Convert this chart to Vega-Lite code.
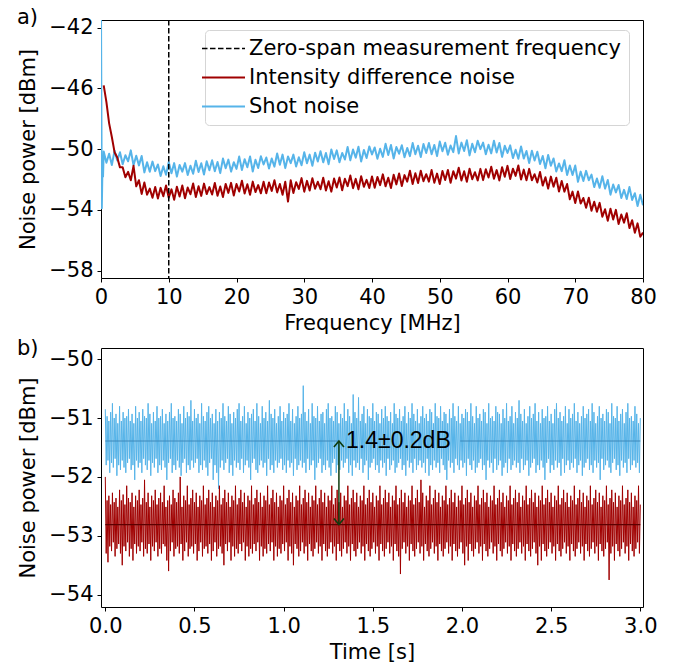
{
"$schema":"https://vega.github.io/schema/vega-lite/v6.json",
"background":"white",
"padding":{"left":16,"top":6,"right":5,"bottom":5},
"spacing":70,
"bounds":"flush",
"resolve":{"scale":{"color":"independent"},"legend":{"color":"independent"}},
"config":{
 "font":"DejaVu Sans",
 "view":{"stroke":"black","strokeWidth":1},
 "axis":{"grid":false,"domain":false,"tickColor":"black","tickSize":4,"labelPadding":4,"labelFontSize":21,"titleFontSize":21,"labelColor":"black","titleColor":"black","titleFontWeight":"normal","labelFont":"DejaVu Sans","titleFont":"DejaVu Sans","labelFlush":false,"labelOverlap":false},
 "axisX":{"titlePadding":5},
 "axisY":{"titlePadding":10},
 "title":{"fontSize":21,"font":"DejaVu Sans","fontWeight":"normal","anchor":"start","frame":"group","dx":-84,"offset":-11,"baseline":"middle","color":"black"}
},
"datasets":{
"spec":[
{"f":0,"b":-41.0},{"f":0.12,"b":-53.9},{"f":0.22,"b":-51.0},{"f":0.3,"b":-51.8},
{"f":0.4,"b":-50.15,"r":-45.8},{"f":0.8,"b":-50.9,"r":-46.9},{"f":1.2,"b":-50.3,"r":-48.3},{"f":1.6,"b":-51.05,"r":-49.2},{"f":2.0,"b":-50.1,"r":-50.2},{"f":2.4,"b":-50.75,"r":-50.55},{"f":2.8,"b":-50.2,"r":-51.2},{"f":3.2,"b":-51.0,"r":-51.2},{"f":3.6,"b":-50.4,"r":-51.85},{"f":4.0,"b":-50.8,"r":-51.5},
{"f":4.4,"b":-50.08,"r":-52.05},{"f":4.8,"b":-51.06,"r":-51.1},{"f":5.2,"b":-50.44,"r":-52.45},{"f":5.6,"b":-51.07,"r":-52.05},{"f":6.0,"b":-50.45,"r":-52.95},{"f":6.4,"b":-51.53,"r":-52.2},{"f":6.8,"b":-50.86,"r":-53.0},{"f":7.2,"b":-51.49,"r":-52.6},{"f":7.6,"b":-50.82,"r":-53.2},{"f":8.0,"b":-51.45,"r":-52.5},
{"f":8.4,"b":-51.01,"r":-53.25},{"f":8.8,"b":-51.77,"r":-52.55},{"f":9.2,"b":-51.13,"r":-53.1},{"f":9.6,"b":-51.69,"r":-52.4},{"f":10.0,"b":-50.85,"r":-53.2},{"f":10.4,"b":-51.59,"r":-52.65},{"f":10.8,"b":-50.92,"r":-53.34},{"f":11.2,"b":-51.81,"r":-52.48},{"f":11.6,"b":-51.04,"r":-53.12},{"f":12.0,"b":-51.48,"r":-52.4},
{"f":12.4,"b":-50.92,"r":-53.24},{"f":12.8,"b":-51.7,"r":-52.53},{"f":13.2,"b":-51.09,"r":-52.97},{"f":13.6,"b":-51.62,"r":-52.26},{"f":14.0,"b":-50.76,"r":-53.15},{"f":14.4,"b":-51.5,"r":-52.44},{"f":14.8,"b":-50.93,"r":-53.08},{"f":15.2,"b":-51.67,"r":-52.27},{"f":15.6,"b":-50.8,"r":-52.96},{"f":16.0,"b":-51.39,"r":-52.5},
{"f":16.4,"b":-50.73,"r":-52.99},{"f":16.8,"b":-51.46,"r":-52.23},{"f":17.2,"b":-50.85,"r":-53.07},{"f":17.6,"b":-51.58,"r":-52.46},{"f":18.0,"b":-50.62,"r":-53.15},{"f":18.4,"b":-51.26,"r":-52.29},{"f":18.8,"b":-50.69,"r":-52.88},{"f":19.2,"b":-51.48,"r":-52.22},{"f":19.6,"b":-50.86,"r":-53.06},{"f":20.0,"b":-51.3,"r":-52.3},
{"f":20.4,"b":-50.49,"r":-52.79},{"f":20.8,"b":-51.37,"r":-52.08},{"f":21.2,"b":-50.66,"r":-52.92},{"f":21.6,"b":-51.19,"r":-52.31},{"f":22.0,"b":-50.48,"r":-53.0},{"f":22.4,"b":-51.47,"r":-52.14},{"f":22.8,"b":-50.7,"r":-52.83},{"f":23.2,"b":-51.24,"r":-52.37},{"f":23.6,"b":-50.47,"r":-52.91},{"f":24.0,"b":-51.01,"r":-52.15},
{"f":24.4,"b":-50.55,"r":-52.9},{"f":24.8,"b":-51.28,"r":-52.2},{"f":25.2,"b":-50.62,"r":-52.75},{"f":25.6,"b":-51.15,"r":-52.05},{"f":26.0,"b":-50.29,"r":-52.85},{"f":26.4,"b":-51.03,"r":-52.3},{"f":26.8,"b":-50.36,"r":-53.0},{"f":27.2,"b":-51.25,"r":-52.15},{"f":27.6,"b":-50.48,"r":-53.45},{"f":28.0,"b":-50.92,"r":-52.05},
{"f":28.4,"b":-50.36,"r":-52.89},{"f":28.8,"b":-51.14,"r":-52.18},{"f":29.2,"b":-50.53,"r":-52.62},{"f":29.6,"b":-51.06,"r":-51.91},{"f":30.0,"b":-50.2,"r":-52.8},{"f":30.4,"b":-50.93,"r":-52.09},{"f":30.8,"b":-50.36,"r":-52.73},{"f":31.2,"b":-51.1,"r":-51.92},{"f":31.6,"b":-50.23,"r":-52.61},{"f":32.0,"b":-50.81,"r":-52.15},
{"f":32.4,"b":-50.14,"r":-52.64},{"f":32.8,"b":-50.87,"r":-51.88},{"f":33.2,"b":-50.25,"r":-52.72},{"f":33.6,"b":-50.99,"r":-52.11},{"f":34.0,"b":-50.02,"r":-52.8},{"f":34.4,"b":-50.65,"r":-51.94},{"f":34.8,"b":-50.08,"r":-52.53},{"f":35.2,"b":-50.86,"r":-51.87},{"f":35.6,"b":-50.25,"r":-52.71},{"f":36.0,"b":-50.68,"r":-51.95},
{"f":36.4,"b":-49.86,"r":-52.44},{"f":36.8,"b":-50.74,"r":-51.73},{"f":37.2,"b":-50.02,"r":-52.57},{"f":37.6,"b":-50.56,"r":-51.96},{"f":38.0,"b":-49.84,"r":-52.65},{"f":38.4,"b":-50.82,"r":-51.79},{"f":38.8,"b":-50.05,"r":-52.48},{"f":39.2,"b":-50.58,"r":-52.02},{"f":39.6,"b":-49.82,"r":-52.56},{"f":40.0,"b":-50.35,"r":-51.8},
{"f":40.4,"b":-49.89,"r":-52.54},{"f":40.8,"b":-50.63,"r":-51.83},{"f":41.2,"b":-49.97,"r":-52.37},{"f":41.6,"b":-50.51,"r":-51.66},{"f":42.0,"b":-49.65,"r":-52.45},{"f":42.4,"b":-50.39,"r":-51.88},{"f":42.8,"b":-49.73,"r":-52.56},{"f":43.2,"b":-50.62,"r":-51.69},{"f":43.6,"b":-49.86,"r":-52.32},{"f":44.0,"b":-50.3,"r":-51.6},
{"f":44.4,"b":-49.74,"r":-52.43},{"f":44.8,"b":-50.53,"r":-51.71},{"f":45.2,"b":-49.92,"r":-52.14},{"f":45.6,"b":-50.46,"r":-51.42},{"f":46.0,"b":-49.6,"r":-52.3},{"f":46.4,"b":-50.34,"r":-51.59},{"f":46.8,"b":-49.78,"r":-52.23},{"f":47.2,"b":-50.52,"r":-51.42},{"f":47.6,"b":-49.66,"r":-52.11},{"f":48.0,"b":-50.25,"r":-51.65},
{"f":48.4,"b":-49.59,"r":-52.14},{"f":48.8,"b":-50.33,"r":-51.38},{"f":49.2,"b":-49.72,"r":-52.22},{"f":49.6,"b":-50.46,"r":-51.61},{"f":50.0,"b":-49.5,"r":-52.3},{"f":50.4,"b":-50.14,"r":-51.44},{"f":50.8,"b":-49.58,"r":-52.03},{"f":51.2,"b":-50.37,"r":-51.37},{"f":51.6,"b":-49.76,"r":-52.21},{"f":52.0,"b":-50.2,"r":-51.45},
{"f":52.4,"b":-49.14,"r":-51.94},{"f":52.8,"b":-50.28,"r":-51.23},{"f":53.2,"b":-49.57,"r":-52.07},{"f":53.6,"b":-50.12,"r":-51.46},{"f":54.0,"b":-49.41,"r":-52.15},{"f":54.4,"b":-50.41,"r":-51.29},{"f":54.8,"b":-49.65,"r":-51.98},{"f":55.2,"b":-50.2,"r":-51.52},{"f":55.6,"b":-49.45,"r":-52.06},{"f":56.0,"b":-50.0,"r":-51.3},
{"f":56.4,"b":-49.57,"r":-52.04},{"f":56.8,"b":-50.34,"r":-51.33},{"f":57.2,"b":-49.71,"r":-51.87},{"f":57.6,"b":-50.28,"r":-51.16},{"f":58.0,"b":-49.45,"r":-51.95},{"f":58.4,"b":-50.22,"r":-51.38},{"f":58.8,"b":-49.59,"r":-52.06},{"f":59.2,"b":-50.51,"r":-51.19},{"f":59.6,"b":-49.78,"r":-51.82},{"f":60.0,"b":-50.25,"r":-51.1},
{"f":60.4,"b":-49.75,"r":-51.97},{"f":60.8,"b":-50.59,"r":-51.29},{"f":61.2,"b":-50.04,"r":-51.76},{"f":61.6,"b":-50.63,"r":-51.08},{"f":62.0,"b":-49.83,"r":-52.0},{"f":62.4,"b":-50.62,"r":-51.35},{"f":62.8,"b":-50.12,"r":-52.05},{"f":63.2,"b":-50.91,"r":-51.3},{"f":63.6,"b":-50.11,"r":-52.05},{"f":64.0,"b":-50.75,"r":-51.65},
{"f":64.4,"b":-50.17,"r":-52.2},{"f":64.8,"b":-50.98,"r":-51.5},{"f":65.2,"b":-50.45,"r":-52.4},{"f":65.6,"b":-51.26,"r":-51.85},{"f":66.0,"b":-50.38,"r":-52.6},{"f":66.4,"b":-51.09,"r":-51.81},{"f":66.8,"b":-50.61,"r":-52.47},{"f":67.2,"b":-51.47,"r":-51.88},{"f":67.6,"b":-50.94,"r":-52.79},{"f":68.0,"b":-51.45,"r":-52.1},
{"f":68.4,"b":-50.73,"r":-52.8},{"f":68.8,"b":-51.7,"r":-52.3},{"f":69.2,"b":-51.08,"r":-53.3},{"f":69.6,"b":-51.7,"r":-52.8},{"f":70.0,"b":-51.08,"r":-53.55},{"f":70.4,"b":-52.15,"r":-52.79},{"f":70.8,"b":-51.48,"r":-53.58},{"f":71.2,"b":-52.1,"r":-53.22},{"f":71.6,"b":-51.43,"r":-53.86},{"f":72.0,"b":-52.05,"r":-53.2},
{"f":72.4,"b":-51.68,"r":-54.06},{"f":72.8,"b":-52.5,"r":-53.47},{"f":73.2,"b":-51.93,"r":-54.13},{"f":73.6,"b":-52.55,"r":-53.54},{"f":74.0,"b":-51.78,"r":-54.45},{"f":74.4,"b":-52.6,"r":-53.96},{"f":74.8,"b":-52.03,"r":-54.72},{"f":75.2,"b":-53.0,"r":-53.93},{"f":75.6,"b":-52.33,"r":-54.64},{"f":76.0,"b":-52.85,"r":-54.0},
{"f":76.4,"b":-52.36,"r":-54.93},{"f":76.8,"b":-53.22,"r":-54.31},{"f":77.2,"b":-52.68,"r":-54.84},{"f":77.6,"b":-53.29,"r":-54.22},{"f":78.0,"b":-52.5,"r":-55.2},{"f":78.4,"b":-53.35,"r":-54.68},{"f":78.8,"b":-52.9,"r":-55.51},{"f":79.2,"b":-53.75,"r":-54.89},{"f":79.6,"b":-53.0,"r":-55.77},{"f":80.0,"b":-53.7,"r":-55.5}
],
"time":[
{"t":0,"b":-50.85,"r":-52.0},{"t":0.005,"b":-51.8,"r":-53.3},{"t":0.01,"b":-50.97,"r":-52.4},{"t":0.015,"b":-51.72,"r":-53.45},{"t":0.02,"b":-51.05,"r":-52.32},{"t":0.025,"b":-51.93,"r":-53.18},{"t":0.03,"b":-50.9,"r":-52.47},{"t":0.035,"b":-51.76,"r":-53.26},{"t":0.04,"b":-50.75,"r":-52.27},{"t":0.045,"b":-51.84,"r":-53.11},
{"t":0.05,"b":-51.0,"r":-52.43},{"t":0.055,"b":-51.69,"r":-53.35},{"t":0.06,"b":-50.93,"r":-52.36},{"t":0.065,"b":-51.98,"r":-53.22},{"t":0.07,"b":-51.09,"r":-52.51},{"t":0.075,"b":-51.8,"r":-53.14},{"t":0.08,"b":-50.8,"r":-52.22},{"t":0.085,"b":-51.88,"r":-53.3},{"t":0.09,"b":-51.05,"r":-52.4},{"t":0.095,"b":-51.72,"r":-53.5},
{"t":0.1,"b":-50.9,"r":-52.3},{"t":0.105,"b":-51.84,"r":-53.18},{"t":0.11,"b":-51.0,"r":-52.47},{"t":0.115,"b":-51.93,"r":-53.26},{"t":0.12,"b":-50.97,"r":-52.15},{"t":0.125,"b":-51.76,"r":-53.11},{"t":0.13,"b":-50.85,"r":-52.36},{"t":0.135,"b":-51.69,"r":-53.35},{"t":0.14,"b":-51.05,"r":-52.43},{"t":0.145,"b":-51.88,"r":-53.22},
{"t":0.15,"b":-50.93,"r":-52.27},{"t":0.155,"b":-51.8,"r":-53.42},{"t":0.16,"b":-51.09,"r":-52.51},{"t":0.165,"b":-52.05,"r":-53.14},{"t":0.17,"b":-50.8,"r":-52.32},{"t":0.175,"b":-51.72,"r":-53.3},{"t":0.18,"b":-51.0,"r":-52.4},{"t":0.185,"b":-51.84,"r":-53.18},{"t":0.19,"b":-50.9,"r":-52.22},{"t":0.195,"b":-51.76,"r":-53.26},
{"t":0.2,"b":-51.05,"r":-52.47},{"t":0.205,"b":-51.93,"r":-53.11},{"t":0.21,"b":-50.85,"r":-52.36},{"t":0.215,"b":-51.69,"r":-53.35},{"t":0.22,"b":-50.97,"r":-52.05},{"t":0.225,"b":-51.8,"r":-53.22},{"t":0.23,"b":-51.0,"r":-52.43},{"t":0.235,"b":-51.88,"r":-53.3},{"t":0.24,"b":-50.75,"r":-52.27},{"t":0.245,"b":-51.72,"r":-53.14},
{"t":0.25,"b":-50.93,"r":-52.51},{"t":0.255,"b":-51.98,"r":-53.42},{"t":0.26,"b":-51.09,"r":-52.32},{"t":0.265,"b":-51.76,"r":-53.18},{"t":0.27,"b":-50.9,"r":-52.4},{"t":0.275,"b":-51.84,"r":-53.26},{"t":0.28,"b":-51.05,"r":-52.22},{"t":0.285,"b":-51.69,"r":-53.11},{"t":0.29,"b":-50.8,"r":-52.47},{"t":0.295,"b":-51.93,"r":-53.35},
{"t":0.3,"b":-51.0,"r":-52.36},{"t":0.305,"b":-51.8,"r":-53.22},{"t":0.31,"b":-50.97,"r":-52.27},{"t":0.315,"b":-51.88,"r":-53.3},{"t":0.32,"b":-50.85,"r":-52.43},{"t":0.325,"b":-51.72,"r":-53.14},{"t":0.33,"b":-51.09,"r":-52.15},{"t":0.335,"b":-51.84,"r":-53.18},{"t":0.34,"b":-50.93,"r":-52.51},{"t":0.345,"b":-52.05,"r":-53.42},
{"t":0.35,"b":-51.05,"r":-52.4},{"t":0.355,"b":-51.76,"r":-53.6},{"t":0.36,"b":-50.9,"r":-52.32},{"t":0.365,"b":-51.69,"r":-53.26},{"t":0.37,"b":-50.75,"r":-52.47},{"t":0.375,"b":-51.93,"r":-53.11},{"t":0.38,"b":-51.0,"r":-52.22},{"t":0.385,"b":-51.8,"r":-53.35},{"t":0.39,"b":-50.97,"r":-52.36},{"t":0.395,"b":-51.88,"r":-53.22},
{"t":0.4,"b":-51.05,"r":-52.43},{"t":0.405,"b":-51.72,"r":-53.18},{"t":0.41,"b":-50.85,"r":-52.27},{"t":0.415,"b":-51.84,"r":-53.3},{"t":0.42,"b":-50.93,"r":-52.0},{"t":0.425,"b":-51.98,"r":-53.14},{"t":0.43,"b":-51.09,"r":-52.51},{"t":0.435,"b":-51.76,"r":-53.42},{"t":0.44,"b":-50.8,"r":-52.32},{"t":0.445,"b":-51.69,"r":-53.26},
{"t":0.45,"b":-51.0,"r":-52.4},{"t":0.455,"b":-51.93,"r":-53.11},{"t":0.46,"b":-50.9,"r":-52.15},{"t":0.465,"b":-51.8,"r":-53.35},{"t":0.47,"b":-50.97,"r":-52.47},{"t":0.475,"b":-51.88,"r":-53.22},{"t":0.48,"b":-50.7,"r":-52.36},{"t":0.485,"b":-51.72,"r":-53.18},{"t":0.49,"b":-51.05,"r":-52.22},{"t":0.495,"b":-51.84,"r":-53.3},
{"t":0.5,"b":-50.85,"r":-52.43},{"t":0.505,"b":-51.76,"r":-53.14},{"t":0.51,"b":-51.0,"r":-52.27},{"t":0.515,"b":-51.69,"r":-53.42},{"t":0.52,"b":-50.93,"r":-52.51},{"t":0.525,"b":-51.93,"r":-53.26},{"t":0.53,"b":-51.09,"r":-52.32},{"t":0.535,"b":-51.8,"r":-53.11},{"t":0.54,"b":-50.75,"r":-52.4},{"t":0.545,"b":-51.88,"r":-53.35},
{"t":0.55,"b":-50.97,"r":-52.15},{"t":0.555,"b":-51.72,"r":-53.22},{"t":0.56,"b":-51.05,"r":-52.47},{"t":0.565,"b":-51.84,"r":-53.18},{"t":0.57,"b":-50.9,"r":-52.36},{"t":0.575,"b":-51.98,"r":-53.3},{"t":0.58,"b":-50.8,"r":-52.22},{"t":0.585,"b":-51.76,"r":-53.14},{"t":0.59,"b":-51.0,"r":-52.43},{"t":0.595,"b":-51.69,"r":-53.42},
{"t":0.6,"b":-50.93,"r":-52.27},{"t":0.605,"b":-52.05,"r":-53.26},{"t":0.61,"b":-51.09,"r":-52.51},{"t":0.615,"b":-51.8,"r":-53.11},{"t":0.62,"b":-50.85,"r":-52.32},{"t":0.625,"b":-51.93,"r":-53.35},{"t":0.63,"b":-51.05,"r":-52.4},{"t":0.635,"b":-52.2,"r":-53.22},{"t":0.64,"b":-50.9,"r":-52.15},{"t":0.645,"b":-51.84,"r":-53.18},
{"t":0.65,"b":-51.0,"r":-52.47},{"t":0.655,"b":-51.72,"r":-53.3},{"t":0.66,"b":-50.75,"r":-52.36},{"t":0.665,"b":-51.88,"r":-53.5},{"t":0.67,"b":-50.97,"r":-52.22},{"t":0.675,"b":-51.76,"r":-53.14},{"t":0.68,"b":-51.05,"r":-52.43},{"t":0.685,"b":-51.69,"r":-53.26},{"t":0.69,"b":-50.8,"r":-52.27},{"t":0.695,"b":-51.93,"r":-53.11},
{"t":0.7,"b":-50.93,"r":-52.51},{"t":0.705,"b":-51.8,"r":-53.42},{"t":0.71,"b":-51.09,"r":-52.32},{"t":0.715,"b":-51.98,"r":-53.18},{"t":0.72,"b":-50.9,"r":-52.4},{"t":0.725,"b":-51.72,"r":-53.35},{"t":0.73,"b":-51.0,"r":-52.15},{"t":0.735,"b":-51.84,"r":-53.22},{"t":0.74,"b":-50.85,"r":-52.47},{"t":0.745,"b":-51.76,"r":-53.3},
{"t":0.75,"b":-50.75,"r":-52.36},{"t":0.755,"b":-51.88,"r":-53.14},{"t":0.76,"b":-51.05,"r":-52.22},{"t":0.765,"b":-51.69,"r":-53.26},{"t":0.77,"b":-50.97,"r":-52.43},{"t":0.775,"b":-51.93,"r":-53.11},{"t":0.78,"b":-50.8,"r":-52.27},{"t":0.785,"b":-51.8,"r":-53.42},{"t":0.79,"b":-51.09,"r":-52.51},{"t":0.795,"b":-51.72,"r":-53.18},
{"t":0.8,"b":-50.9,"r":-52.32},{"t":0.805,"b":-51.84,"r":-53.35},{"t":0.81,"b":-51.0,"r":-52.4},{"t":0.815,"b":-52.05,"r":-53.22},{"t":0.82,"b":-50.93,"r":-52.15},{"t":0.825,"b":-51.76,"r":-53.3},{"t":0.83,"b":-50.85,"r":-52.47},{"t":0.835,"b":-51.69,"r":-53.14},{"t":0.84,"b":-51.05,"r":-52.36},{"t":0.845,"b":-51.88,"r":-53.26},
{"t":0.85,"b":-50.75,"r":-52.22},{"t":0.855,"b":-51.93,"r":-53.11},{"t":0.86,"b":-50.97,"r":-52.43},{"t":0.865,"b":-51.8,"r":-53.42},{"t":0.87,"b":-51.09,"r":-52.27},{"t":0.875,"b":-51.72,"r":-53.18},{"t":0.88,"b":-50.8,"r":-52.51},{"t":0.885,"b":-51.84,"r":-53.35},{"t":0.89,"b":-51.0,"r":-52.32},{"t":0.895,"b":-51.76,"r":-53.22},
{"t":0.9,"b":-50.9,"r":-52.4},{"t":0.905,"b":-51.98,"r":-53.3},{"t":0.91,"b":-51.05,"r":-52.15},{"t":0.915,"b":-51.69,"r":-53.14},{"t":0.92,"b":-50.7,"r":-52.47},{"t":0.925,"b":-51.88,"r":-53.26},{"t":0.93,"b":-50.93,"r":-52.36},{"t":0.935,"b":-51.8,"r":-53.11},{"t":0.94,"b":-51.0,"r":-52.22},{"t":0.945,"b":-51.93,"r":-53.42},
{"t":0.95,"b":-50.85,"r":-52.43},{"t":0.955,"b":-51.72,"r":-53.18},{"t":0.96,"b":-51.09,"r":-52.27},{"t":0.965,"b":-51.84,"r":-53.35},{"t":0.97,"b":-50.97,"r":-52.51},{"t":0.975,"b":-51.76,"r":-53.22},{"t":0.98,"b":-50.8,"r":-52.32},{"t":0.985,"b":-51.69,"r":-53.3},{"t":0.99,"b":-51.05,"r":-52.4},{"t":0.995,"b":-51.88,"r":-53.14},
{"t":1.0,"b":-50.9,"r":-52.15},{"t":1.005,"b":-51.8,"r":-53.26},{"t":1.01,"b":-51.0,"r":-52.47},{"t":1.015,"b":-51.93,"r":-53.11},{"t":1.02,"b":-50.93,"r":-52.36},{"t":1.025,"b":-51.72,"r":-53.42},{"t":1.03,"b":-50.75,"r":-52.22},{"t":1.035,"b":-51.84,"r":-53.18},{"t":1.04,"b":-51.05,"r":-52.43},{"t":1.045,"b":-51.76,"r":-53.3},
{"t":1.05,"b":-50.85,"r":-52.27},{"t":1.055,"b":-51.98,"r":-53.5},{"t":1.06,"b":-51.09,"r":-52.51},{"t":1.065,"b":-51.69,"r":-53.14},{"t":1.07,"b":-50.97,"r":-52.32},{"t":1.075,"b":-51.88,"r":-53.22},{"t":1.08,"b":-50.8,"r":-52.4},{"t":1.085,"b":-51.8,"r":-53.35},{"t":1.09,"b":-51.0,"r":-52.15},{"t":1.095,"b":-51.72,"r":-53.26},
{"t":1.1,"b":-50.93,"r":-52.47},{"t":1.105,"b":-51.84,"r":-53.11},{"t":1.11,"b":-50.45,"r":-52.36},{"t":1.115,"b":-51.76,"r":-53.3},{"t":1.12,"b":-50.9,"r":-52.22},{"t":1.125,"b":-51.93,"r":-53.18},{"t":1.13,"b":-51.05,"r":-52.43},{"t":1.135,"b":-51.69,"r":-53.42},{"t":1.14,"b":-50.85,"r":-52.27},{"t":1.145,"b":-51.88,"r":-53.14},
{"t":1.15,"b":-51.09,"r":-52.51},{"t":1.155,"b":-51.8,"r":-53.26},{"t":1.16,"b":-50.75,"r":-52.32},{"t":1.165,"b":-51.72,"r":-53.35},{"t":1.17,"b":-50.97,"r":-52.4},{"t":1.175,"b":-52.05,"r":-53.22},{"t":1.18,"b":-51.0,"r":-52.15},{"t":1.185,"b":-51.84,"r":-53.11},{"t":1.19,"b":-50.8,"r":-52.47},{"t":1.195,"b":-51.76,"r":-53.3},
{"t":1.2,"b":-51.05,"r":-52.36},{"t":1.205,"b":-51.69,"r":-53.18},{"t":1.21,"b":-50.93,"r":-52.22},{"t":1.215,"b":-51.93,"r":-53.42},{"t":1.22,"b":-50.9,"r":-52.43},{"t":1.225,"b":-51.8,"r":-53.14},{"t":1.23,"b":-51.09,"r":-52.27},{"t":1.235,"b":-51.88,"r":-53.26},{"t":1.24,"b":-50.85,"r":-52.51},{"t":1.245,"b":-51.72,"r":-53.35},
{"t":1.25,"b":-50.75,"r":-52.32},{"t":1.255,"b":-51.84,"r":-53.22},{"t":1.26,"b":-51.0,"r":-52.4},{"t":1.265,"b":-51.98,"r":-53.11},{"t":1.27,"b":-50.97,"r":-52.15},{"t":1.275,"b":-51.76,"r":-53.3},{"t":1.28,"b":-51.05,"r":-52.47},{"t":1.285,"b":-51.69,"r":-53.18},{"t":1.29,"b":-50.8,"r":-52.36},{"t":1.295,"b":-51.93,"r":-53.42},
{"t":1.3,"b":-50.9,"r":-52.22},{"t":1.305,"b":-51.8,"r":-53.14},{"t":1.31,"b":-51.09,"r":-52.43},{"t":1.315,"b":-51.88,"r":-53.26},{"t":1.32,"b":-50.93,"r":-52.27},{"t":1.325,"b":-51.72,"r":-53.35},{"t":1.33,"b":-51.0,"r":-52.51},{"t":1.335,"b":-51.84,"r":-53.22},{"t":1.34,"b":-50.75,"r":-52.32},{"t":1.345,"b":-51.76,"r":-53.11},
{"t":1.35,"b":-51.05,"r":-52.4},{"t":1.355,"b":-51.69,"r":-53.3},{"t":1.36,"b":-50.85,"r":-52.15},{"t":1.365,"b":-51.93,"r":-53.18},{"t":1.37,"b":-50.97,"r":-52.47},{"t":1.375,"b":-51.8,"r":-53.42},{"t":1.38,"b":-51.09,"r":-52.36},{"t":1.385,"b":-51.98,"r":-53.14},{"t":1.39,"b":-50.6,"r":-52.22},{"t":1.395,"b":-51.72,"r":-53.26},
{"t":1.4,"b":-50.9,"r":-52.43},{"t":1.405,"b":-51.84,"r":-53.35},{"t":1.41,"b":-51.0,"r":-52.27},{"t":1.415,"b":-51.76,"r":-53.22},{"t":1.42,"b":-50.65,"r":-52.51},{"t":1.425,"b":-51.88,"r":-53.11},{"t":1.43,"b":-51.05,"r":-52.32},{"t":1.435,"b":-51.69,"r":-53.3},{"t":1.44,"b":-50.93,"r":-52.4},{"t":1.445,"b":-51.93,"r":-53.18},
{"t":1.45,"b":-50.8,"r":-52.15},{"t":1.455,"b":-51.8,"r":-53.42},{"t":1.46,"b":-51.09,"r":-52.47},{"t":1.465,"b":-51.72,"r":-53.14},{"t":1.47,"b":-50.85,"r":-52.36},{"t":1.475,"b":-52.05,"r":-53.26},{"t":1.48,"b":-50.97,"r":-52.22},{"t":1.485,"b":-51.84,"r":-53.35},{"t":1.49,"b":-51.0,"r":-52.43},{"t":1.495,"b":-51.76,"r":-53.22},
{"t":1.5,"b":-50.75,"r":-52.27},{"t":1.505,"b":-51.69,"r":-53.11},{"t":1.51,"b":-51.05,"r":-52.51},{"t":1.515,"b":-51.88,"r":-53.3},{"t":1.52,"b":-50.9,"r":-52.32},{"t":1.525,"b":-51.8,"r":-53.18},{"t":1.53,"b":-50.93,"r":-52.4},{"t":1.535,"b":-51.93,"r":-53.42},{"t":1.54,"b":-51.09,"r":-52.15},{"t":1.545,"b":-51.72,"r":-53.14},
{"t":1.55,"b":-50.85,"r":-52.47},{"t":1.555,"b":-51.84,"r":-53.26},{"t":1.56,"b":-51.0,"r":-52.36},{"t":1.565,"b":-51.76,"r":-53.35},{"t":1.57,"b":-50.8,"r":-52.22},{"t":1.575,"b":-51.98,"r":-53.22},{"t":1.58,"b":-50.97,"r":-52.43},{"t":1.585,"b":-51.69,"r":-53.11},{"t":1.59,"b":-51.05,"r":-52.27},{"t":1.595,"b":-51.88,"r":-53.3},
{"t":1.6,"b":-50.9,"r":-52.51},{"t":1.605,"b":-51.8,"r":-53.18},{"t":1.61,"b":-51.09,"r":-52.32},{"t":1.615,"b":-51.72,"r":-53.42},{"t":1.62,"b":-50.75,"r":-52.4},{"t":1.625,"b":-51.93,"r":-53.14},{"t":1.63,"b":-50.93,"r":-52.15},{"t":1.635,"b":-51.84,"r":-53.26},{"t":1.64,"b":-51.0,"r":-52.47},{"t":1.645,"b":-51.76,"r":-53.35},
{"t":1.65,"b":-50.85,"r":-52.36},{"t":1.655,"b":-51.69,"r":-53.65},{"t":1.66,"b":-51.05,"r":-52.22},{"t":1.665,"b":-51.88,"r":-53.22},{"t":1.67,"b":-50.97,"r":-52.43},{"t":1.675,"b":-51.8,"r":-53.11},{"t":1.68,"b":-50.8,"r":-52.27},{"t":1.685,"b":-51.98,"r":-53.3},{"t":1.69,"b":-51.09,"r":-52.51},{"t":1.695,"b":-51.72,"r":-53.18},
{"t":1.7,"b":-50.9,"r":-52.32},{"t":1.705,"b":-51.84,"r":-53.42},{"t":1.71,"b":-51.0,"r":-52.4},{"t":1.715,"b":-51.76,"r":-53.14},{"t":1.72,"b":-50.75,"r":-52.15},{"t":1.725,"b":-51.93,"r":-53.26},{"t":1.73,"b":-50.93,"r":-52.47},{"t":1.735,"b":-51.69,"r":-53.35},{"t":1.74,"b":-51.05,"r":-52.36},{"t":1.745,"b":-51.88,"r":-53.22},
{"t":1.75,"b":-50.85,"r":-52.22},{"t":1.755,"b":-51.8,"r":-53.11},{"t":1.76,"b":-51.09,"r":-52.43},{"t":1.765,"b":-51.72,"r":-53.3},{"t":1.77,"b":-50.97,"r":-52.05},{"t":1.775,"b":-51.84,"r":-53.18},{"t":1.78,"b":-50.8,"r":-52.27},{"t":1.785,"b":-51.76,"r":-53.42},{"t":1.79,"b":-51.0,"r":-52.51},{"t":1.795,"b":-51.93,"r":-53.14},
{"t":1.8,"b":-50.93,"r":-52.32},{"t":1.805,"b":-51.69,"r":-53.26},{"t":1.81,"b":-51.05,"r":-52.4},{"t":1.815,"b":-51.98,"r":-53.35},{"t":1.82,"b":-50.85,"r":-52.15},{"t":1.825,"b":-51.8,"r":-53.22},{"t":1.83,"b":-50.9,"r":-52.47},{"t":1.835,"b":-51.88,"r":-53.11},{"t":1.84,"b":-51.09,"r":-52.36},{"t":1.845,"b":-51.72,"r":-53.3},
{"t":1.85,"b":-50.75,"r":-52.22},{"t":1.855,"b":-51.84,"r":-53.18},{"t":1.86,"b":-50.97,"r":-52.43},{"t":1.865,"b":-51.76,"r":-53.42},{"t":1.87,"b":-51.0,"r":-52.27},{"t":1.875,"b":-51.93,"r":-53.14},{"t":1.88,"b":-50.8,"r":-52.51},{"t":1.885,"b":-51.69,"r":-53.26},{"t":1.89,"b":-51.05,"r":-52.32},{"t":1.895,"b":-51.8,"r":-53.35},
{"t":1.9,"b":-50.9,"r":-52.4},{"t":1.905,"b":-51.88,"r":-53.22},{"t":1.91,"b":-50.93,"r":-52.15},{"t":1.915,"b":-52.05,"r":-53.11},{"t":1.92,"b":-51.09,"r":-52.47},{"t":1.925,"b":-51.72,"r":-53.3},{"t":1.93,"b":-50.85,"r":-52.36},{"t":1.935,"b":-51.84,"r":-53.18},{"t":1.94,"b":-51.0,"r":-52.22},{"t":1.945,"b":-51.76,"r":-53.42},
{"t":1.95,"b":-50.75,"r":-52.43},{"t":1.955,"b":-51.93,"r":-53.14},{"t":1.96,"b":-50.97,"r":-52.27},{"t":1.965,"b":-51.69,"r":-53.26},{"t":1.97,"b":-51.05,"r":-52.51},{"t":1.975,"b":-51.8,"r":-53.35},{"t":1.98,"b":-50.8,"r":-52.32},{"t":1.985,"b":-51.88,"r":-53.22},{"t":1.99,"b":-51.09,"r":-52.4},{"t":1.995,"b":-51.72,"r":-53.11},
{"t":2.0,"b":-50.93,"r":-52.15},{"t":2.005,"b":-51.84,"r":-53.3},{"t":2.01,"b":-51.0,"r":-52.47},{"t":2.015,"b":-51.76,"r":-53.5},{"t":2.02,"b":-50.85,"r":-52.36},{"t":2.025,"b":-51.98,"r":-53.18},{"t":2.03,"b":-50.9,"r":-52.22},{"t":2.035,"b":-51.69,"r":-53.42},{"t":2.04,"b":-51.05,"r":-52.43},{"t":2.045,"b":-51.8,"r":-53.14},
{"t":2.05,"b":-50.75,"r":-52.27},{"t":2.055,"b":-51.88,"r":-53.26},{"t":2.06,"b":-50.97,"r":-52.51},{"t":2.065,"b":-51.72,"r":-53.35},{"t":2.07,"b":-51.09,"r":-52.32},{"t":2.075,"b":-51.93,"r":-53.22},{"t":2.08,"b":-50.8,"r":-52.4},{"t":2.085,"b":-51.84,"r":-53.11},{"t":2.09,"b":-51.0,"r":-52.15},{"t":2.095,"b":-51.76,"r":-53.3},
{"t":2.1,"b":-50.93,"r":-52.47},{"t":2.105,"b":-51.69,"r":-53.18},{"t":2.11,"b":-51.05,"r":-52.36},{"t":2.115,"b":-51.88,"r":-53.42},{"t":2.12,"b":-50.85,"r":-52.22},{"t":2.125,"b":-51.8,"r":-53.14},{"t":2.13,"b":-50.9,"r":-52.43},{"t":2.135,"b":-52.05,"r":-53.26},{"t":2.14,"b":-51.09,"r":-52.27},{"t":2.145,"b":-51.72,"r":-53.35},
{"t":2.15,"b":-50.75,"r":-52.51},{"t":2.155,"b":-51.84,"r":-53.22},{"t":2.16,"b":-51.0,"r":-52.32},{"t":2.165,"b":-51.76,"r":-53.11},{"t":2.17,"b":-50.97,"r":-52.4},{"t":2.175,"b":-51.93,"r":-53.3},{"t":2.18,"b":-51.05,"r":-52.15},{"t":2.185,"b":-51.69,"r":-53.18},{"t":2.19,"b":-50.8,"r":-52.47},{"t":2.195,"b":-51.88,"r":-53.42},
{"t":2.2,"b":-50.9,"r":-52.36},{"t":2.205,"b":-51.8,"r":-53.14},{"t":2.21,"b":-50.93,"r":-52.22},{"t":2.215,"b":-51.72,"r":-53.26},{"t":2.22,"b":-51.09,"r":-52.43},{"t":2.225,"b":-51.98,"r":-53.35},{"t":2.23,"b":-50.85,"r":-52.27},{"t":2.235,"b":-51.84,"r":-53.22},{"t":2.24,"b":-51.0,"r":-52.51},{"t":2.245,"b":-51.76,"r":-53.11},
{"t":2.25,"b":-50.75,"r":-52.32},{"t":2.255,"b":-51.93,"r":-53.3},{"t":2.26,"b":-51.05,"r":-52.4},{"t":2.265,"b":-51.69,"r":-53.18},{"t":2.27,"b":-50.97,"r":-52.15},{"t":2.275,"b":-51.88,"r":-53.42},{"t":2.28,"b":-50.8,"r":-52.47},{"t":2.285,"b":-51.8,"r":-53.14},{"t":2.29,"b":-51.09,"r":-52.36},{"t":2.295,"b":-51.72,"r":-53.26},
{"t":2.3,"b":-50.9,"r":-52.22},{"t":2.305,"b":-51.84,"r":-53.35},{"t":2.31,"b":-51.0,"r":-52.43},{"t":2.315,"b":-51.76,"r":-53.22},{"t":2.32,"b":-50.7,"r":-52.27},{"t":2.325,"b":-51.93,"r":-53.11},{"t":2.33,"b":-50.93,"r":-52.51},{"t":2.335,"b":-51.69,"r":-53.3},{"t":2.34,"b":-51.05,"r":-52.32},{"t":2.345,"b":-51.88,"r":-53.18},
{"t":2.35,"b":-50.85,"r":-52.4},{"t":2.355,"b":-51.8,"r":-53.42},{"t":2.36,"b":-51.09,"r":-52.15},{"t":2.365,"b":-51.72,"r":-53.14},{"t":2.37,"b":-50.97,"r":-52.47},{"t":2.375,"b":-51.98,"r":-53.26},{"t":2.38,"b":-50.8,"r":-52.36},{"t":2.385,"b":-51.84,"r":-53.35},{"t":2.39,"b":-51.0,"r":-52.22},{"t":2.395,"b":-51.76,"r":-53.22},
{"t":2.4,"b":-50.93,"r":-52.43},{"t":2.405,"b":-51.69,"r":-53.11},{"t":2.41,"b":-50.75,"r":-52.27},{"t":2.415,"b":-51.93,"r":-53.3},{"t":2.42,"b":-51.05,"r":-52.51},{"t":2.425,"b":-51.8,"r":-53.5},{"t":2.43,"b":-50.9,"r":-52.32},{"t":2.435,"b":-51.88,"r":-53.18},{"t":2.44,"b":-51.09,"r":-52.4},{"t":2.445,"b":-51.72,"r":-53.42},
{"t":2.45,"b":-50.85,"r":-52.15},{"t":2.455,"b":-51.84,"r":-53.14},{"t":2.46,"b":-51.0,"r":-52.47},{"t":2.465,"b":-52.05,"r":-53.26},{"t":2.47,"b":-50.97,"r":-52.36},{"t":2.475,"b":-51.76,"r":-53.35},{"t":2.48,"b":-50.8,"r":-52.22},{"t":2.485,"b":-51.69,"r":-53.22},{"t":2.49,"b":-51.05,"r":-52.43},{"t":2.495,"b":-51.93,"r":-53.11},
{"t":2.5,"b":-50.93,"r":-52.27},{"t":2.505,"b":-51.8,"r":-53.3},{"t":2.51,"b":-51.09,"r":-52.51},{"t":2.515,"b":-51.88,"r":-53.18},{"t":2.52,"b":-50.85,"r":-52.32},{"t":2.525,"b":-51.72,"r":-53.42},{"t":2.53,"b":-50.75,"r":-52.4},{"t":2.535,"b":-51.84,"r":-53.14},{"t":2.54,"b":-51.0,"r":-52.15},{"t":2.545,"b":-51.76,"r":-53.26},
{"t":2.55,"b":-50.9,"r":-52.47},{"t":2.555,"b":-51.98,"r":-53.35},{"t":2.56,"b":-51.05,"r":-52.36},{"t":2.565,"b":-51.69,"r":-53.22},{"t":2.57,"b":-50.97,"r":-52.22},{"t":2.575,"b":-51.93,"r":-53.11},{"t":2.58,"b":-50.8,"r":-52.43},{"t":2.585,"b":-51.8,"r":-53.3},{"t":2.59,"b":-51.09,"r":-52.27},{"t":2.595,"b":-51.72,"r":-53.18},
{"t":2.6,"b":-50.85,"r":-52.51},{"t":2.605,"b":-51.88,"r":-53.42},{"t":2.61,"b":-51.0,"r":-52.32},{"t":2.615,"b":-51.76,"r":-53.14},{"t":2.62,"b":-50.93,"r":-52.4},{"t":2.625,"b":-51.84,"r":-53.26},{"t":2.63,"b":-50.75,"r":-52.15},{"t":2.635,"b":-51.69,"r":-53.35},{"t":2.64,"b":-51.05,"r":-52.47},{"t":2.645,"b":-51.93,"r":-53.22},
{"t":2.65,"b":-50.9,"r":-52.36},{"t":2.655,"b":-51.8,"r":-53.11},{"t":2.66,"b":-51.09,"r":-52.22},{"t":2.665,"b":-51.72,"r":-53.3},{"t":2.67,"b":-50.97,"r":-52.43},{"t":2.675,"b":-51.98,"r":-53.18},{"t":2.68,"b":-50.8,"r":-52.27},{"t":2.685,"b":-51.84,"r":-53.42},{"t":2.69,"b":-51.0,"r":-52.51},{"t":2.695,"b":-51.76,"r":-53.14},
{"t":2.7,"b":-50.93,"r":-52.32},{"t":2.705,"b":-51.69,"r":-53.26},{"t":2.71,"b":-50.85,"r":-52.4},{"t":2.715,"b":-51.88,"r":-53.35},{"t":2.72,"b":-51.05,"r":-52.15},{"t":2.725,"b":-51.8,"r":-53.22},{"t":2.73,"b":-50.75,"r":-52.47},{"t":2.735,"b":-51.93,"r":-53.11},{"t":2.74,"b":-50.9,"r":-52.36},{"t":2.745,"b":-51.72,"r":-53.3},
{"t":2.75,"b":-51.09,"r":-52.22},{"t":2.755,"b":-51.84,"r":-53.18},{"t":2.76,"b":-50.97,"r":-52.43},{"t":2.765,"b":-51.76,"r":-53.42},{"t":2.77,"b":-50.8,"r":-52.27},{"t":2.775,"b":-52.05,"r":-53.14},{"t":2.78,"b":-51.0,"r":-52.51},{"t":2.785,"b":-51.69,"r":-53.26},{"t":2.79,"b":-50.93,"r":-52.32},{"t":2.795,"b":-51.88,"r":-53.35},
{"t":2.8,"b":-51.05,"r":-52.4},{"t":2.805,"b":-51.8,"r":-53.22},{"t":2.81,"b":-50.85,"r":-52.15},{"t":2.815,"b":-51.72,"r":-53.11},{"t":2.82,"b":-50.9,"r":-52.47},{"t":2.825,"b":-51.84,"r":-53.75},{"t":2.83,"b":-51.09,"r":-52.36},{"t":2.835,"b":-51.93,"r":-53.3},{"t":2.84,"b":-50.75,"r":-52.22},{"t":2.845,"b":-51.76,"r":-53.18},
{"t":2.85,"b":-50.97,"r":-52.43},{"t":2.855,"b":-51.69,"r":-53.42},{"t":2.86,"b":-51.0,"r":-52.27},{"t":2.865,"b":-51.88,"r":-53.14},{"t":2.87,"b":-50.8,"r":-52.51},{"t":2.875,"b":-51.8,"r":-53.26},{"t":2.88,"b":-51.05,"r":-52.32},{"t":2.885,"b":-51.98,"r":-53.35},{"t":2.89,"b":-50.93,"r":-52.4},{"t":2.895,"b":-51.72,"r":-53.22},
{"t":2.9,"b":-50.85,"r":-52.15},{"t":2.905,"b":-51.84,"r":-53.11},{"t":2.91,"b":-51.09,"r":-52.47},{"t":2.915,"b":-51.76,"r":-53.3},{"t":2.92,"b":-50.9,"r":-52.36},{"t":2.925,"b":-51.93,"r":-53.18},{"t":2.93,"b":-50.75,"r":-52.22},{"t":2.935,"b":-51.69,"r":-53.42},{"t":2.94,"b":-51.0,"r":-52.43},{"t":2.945,"b":-51.88,"r":-53.14},
{"t":2.95,"b":-50.97,"r":-52.27},{"t":2.955,"b":-51.8,"r":-53.26},{"t":2.96,"b":-51.05,"r":-52.51},{"t":2.965,"b":-51.72,"r":-53.35},{"t":2.97,"b":-50.8,"r":-52.32},{"t":2.975,"b":-51.84,"r":-53.22},{"t":2.98,"b":-50.93,"r":-52.4},{"t":2.985,"b":-51.76,"r":-53.11},{"t":2.99,"b":-51.09,"r":-52.15},{"t":2.995,"b":-51.93,"r":-53.3},
{"t":3.0,"b":-51.0,"r":-52.47}
]
},
"vconcat":[
{
 "width":542,"height":258,
 "title":{"text":"a)"},
 "data":{"name":"spec"},
 "layer":[
  {"mark":{"type":"line","strokeWidth":2,"clip":true,"strokeJoin":"round"},
   "encoding":{
    "x":{"field":"f","type":"quantitative","scale":{"domain":[0,80],"nice":false,"zero":false},"axis":{"title":"Frequency [MHz]","values":[0,10,20,30,40,50,60,70,80]}},
    "y":{"field":"b","type":"quantitative","scale":{"domain":[-58.49,-41.49],"nice":false,"zero":false},"axis":{"title":"Noise power [dBm]","values":[-58,-54,-50,-46,-42]}},
    "color":{"datum":"Shot noise","type":"nominal",
      "scale":{"domain":["Zero-span measurement frequency","Intensity difference noise","Shot noise"],"range":["black","#a00000","#56b4e9"]},
      "legend":{"orient":"none","legendX":104,"legendY":10,"title":null,"symbolType":"stroke","symbolSize":1849,"symbolStrokeWidth":2.2,"labelFontSize":21,"labelFont":"DejaVu Sans","labelColor":"black","labelOffset":15,"padding":8,"rowPadding":7,"fillColor":"white","strokeColor":"#d5d5d5","cornerRadius":4,"labelLimit":0,
        "encode":{"symbols":{"update":{"strokeDash":{"signal":"datum.value === 'Zero-span measurement frequency' ? [5.5,2.5] : [1,0]"},"strokeWidth":{"signal":"datum.value === 'Zero-span measurement frequency' ? 1.5 : 2.2"}}}}}}
   }},
  {"mark":{"type":"line","strokeWidth":2,"clip":true,"strokeJoin":"round"},
   "encoding":{
    "x":{"field":"f","type":"quantitative"},
    "y":{"field":"r","type":"quantitative"},
    "color":{"datum":"Intensity difference noise","type":"nominal"}
   }},
  {"data":{"values":[{"f":10}]},
   "mark":{"type":"rule","strokeWidth":1.5,"strokeDash":[5.5,2.5]},
   "encoding":{
    "x":{"field":"f","type":"quantitative"},
    "color":{"datum":"Zero-span measurement frequency","type":"nominal"}
   }}
 ]
},
{
 "width":542,"height":259,
 "title":{"text":"b)"},
 "data":{"name":"time"},
 "layer":[
  {"mark":{"type":"line","strokeWidth":1,"color":"#56b4e9","strokeJoin":"round","clip":true},
   "encoding":{
    "x":{"field":"t","type":"quantitative","scale":{"domain":[-0.0241,3.0151],"nice":false,"zero":false},"axis":{"title":"Time [s]","values":[0,0.5,1,1.5,2,2.5,3],"format":".1f"}},
    "y":{"field":"b","type":"quantitative","scale":{"domain":[-54.21,-49.81],"nice":false,"zero":false},"axis":{"title":"Noise power [dBm]","values":[-54,-53,-52,-51,-50],"format":"d"}}
   }},
  {"mark":{"type":"line","strokeWidth":1,"color":"#a00000","strokeJoin":"round","clip":true},
   "encoding":{
    "x":{"field":"t","type":"quantitative"},
    "y":{"field":"r","type":"quantitative"}
   }},
  {"data":{"values":[{"t1":0,"t2":1.305,"v":-51.39},{"t1":1.99,"t2":3.0,"v":-51.39}]},
   "mark":{"type":"rule","strokeWidth":1.2,"color":"#3d88ba"},
   "encoding":{
    "x":{"field":"t1","type":"quantitative"},
    "x2":{"field":"t2"},
    "y":{"field":"v","type":"quantitative"}
   }},
  {"data":{"values":[{"t1":0,"t2":3.0,"v":-52.81}]},
   "mark":{"type":"rule","strokeWidth":1.2,"color":"#5c0000"},
   "encoding":{
    "x":{"field":"t1","type":"quantitative"},
    "x2":{"field":"t2"},
    "y":{"field":"v","type":"quantitative"}
   }},
  {"data":{"values":[{"t":1.31,"y1":-51.39,"y2":-52.81}]},
   "layer":[
    {"mark":{"type":"rule","strokeWidth":1.5,"color":"#0e3b0e"},
     "encoding":{"x":{"field":"t","type":"quantitative"},"y":{"field":"y1","type":"quantitative"},"y2":{"field":"y2"}}},
    {"mark":{"type":"point","shape":"M-1,1.2L0,0L1,1.2","filled":false,"size":100,"strokeWidth":1.6,"color":"#0e3b0e","opacity":1},
     "encoding":{"x":{"field":"t","type":"quantitative"},"y":{"field":"y1","type":"quantitative"}}},
    {"mark":{"type":"point","shape":"M-1,-1.2L0,0L1,-1.2","filled":false,"size":100,"strokeWidth":1.6,"color":"#0e3b0e","opacity":1},
     "encoding":{"x":{"field":"t","type":"quantitative"},"y":{"field":"y2","type":"quantitative"}}}
   ]},
  {"data":{"values":[{"t":1.35,"v":-51.39,"label":"1.4±0.2dB"}]},
   "mark":{"type":"text","align":"left","baseline":"middle","font":"Liberation Sans","fontSize":23,"color":"black"},
   "encoding":{"x":{"field":"t","type":"quantitative"},"y":{"field":"v","type":"quantitative"},"text":{"field":"label"}}}
 ]
}
]
}
